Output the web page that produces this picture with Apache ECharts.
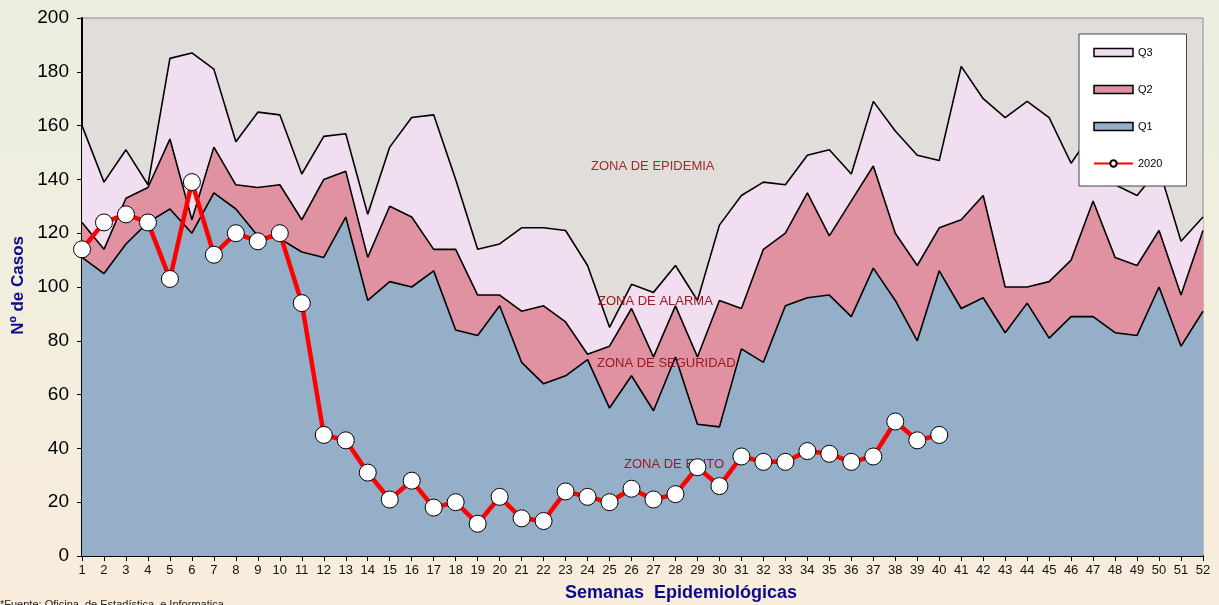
<!DOCTYPE html>
<html style="height: 100%">
<head>
<meta charset="utf-8">
<script type="text/javascript" src="https://cdn.jsdelivr.net/npm/echarts@6/dist/echarts.min.js"></script>
<style type="text/css">
    body {
        margin: 0;
        height: 100%;
        background: linear-gradient(to bottom, #EAEEDF 0%, #F2EEDE 50%, #F9ECDC 100%);
    }
    #container {
        width: 1219px;
        height: 605px;
    }
</style>
</head>
<body>
<div id="container"></div>
<script type="text/javascript">
    // semanas epidemiologicas
    var semanas = [];
    for (var s = 1; s <= 52; s++) { semanas.push(String(s)); }

    // canal endemico (cuartiles) y casos 2020
    var q3 = [160, 139, 151, 138, 185, 187, 181, 154, 165, 164, 142, 156, 157, 127, 152, 163, 164, 140, 114, 116,
              122, 122, 121, 108, 85, 101, 98, 108, 95, 123, 134, 139, 138, 149, 151, 142, 169, 158, 149, 147,
              182, 170, 163, 169, 163, 146, 158, 138, 134, 144, 117, 126];
    var q2 = [124, 114, 133, 137, 155, 125, 152, 138, 137, 138, 125, 140, 143, 111, 130, 126, 114, 114, 97, 97,
              91, 93, 87, 75, 78, 92, 74, 93, 74, 95, 92, 114, 120, 135, 119, 132, 145, 120, 108, 122,
              125, 134, 100, 100, 102, 110, 132, 111, 108, 121, 97, 121];
    var q1 = [111, 105, 116, 124, 129, 120, 135, 129, 119, 118, 113, 111, 126, 95, 102, 100, 106, 84, 82, 93,
              72, 64, 67, 73, 55, 67, 54, 74, 49, 48, 77, 72, 93, 96, 97, 89, 107, 95, 80, 106,
              92, 96, 83, 94, 81, 89, 89, 83, 82, 100, 78, 91];
    var casos2020 = [114, 124, 127, 124, 103, 139, 112, 120, 117, 120, 94, 45, 43, 31, 21, 28, 18, 20, 12, 22,
                     14, 13, 24, 22, 20, 25, 21, 23, 33, 26, 37, 35, 35, 39, 38, 35, 37, 50, 43, 45];

    var zonas = ['ZONA DE EPIDEMIA', 'ZONA DE ALARMA', 'ZONA DE SEGURIDAD', 'ZONA DE EXITO'];

    var colQ3 = '#F1DEF0', colQ2 = '#E091A2', colQ1 = '#94AFC7';
    var font = '"Liberation Sans", Arial, sans-serif';

    function areaSerie(name, data, color) {
        return {
            name: name,
            type: 'line',
            data: data,
            showSymbol: false,
            symbol: 'none',
            z: 2,
            lineStyle: { color: '#000', width: 1.6 },
            itemStyle: { color: color },
            areaStyle: { color: color, opacity: 1, origin: 'start' }
        };
    }

    var dom = document.getElementById('container');
    var myChart = echarts.init(dom);
    var option = {
        animation: false,
        textStyle: { fontFamily: font },
        grid: {
            left: 82, right: 16, top: 18, bottom: 49,
            show: true,
            backgroundColor: '#E0DDDA',
            borderColor: '#8a8a8a',
            borderWidth: 1
        },
        legend: {
            orient: 'vertical',
            left: 1079,
            top: 34,
            backgroundColor: '#fff',
            borderColor: '#444',
            borderWidth: 1,
            padding: [13, 24, 17, 14],
            itemGap: 26,
            itemWidth: 39,
            itemHeight: 8,
            selectedMode: false,
            textStyle: { fontSize: 11, color: '#000', fontFamily: font },
            data: [
                { name: 'Q3', icon: 'rect', itemStyle: { color: colQ3, borderColor: '#000', borderWidth: 1.5 } },
                { name: 'Q2', icon: 'rect', itemStyle: { color: colQ2, borderColor: '#000', borderWidth: 1.5 } },
                { name: 'Q1', icon: 'rect', itemStyle: { color: colQ1, borderColor: '#000', borderWidth: 1.5 } },
                { name: '2020' }
            ]
        },
        xAxis: {
            type: 'category',
            data: semanas,
            boundaryGap: false,
            axisLine: { lineStyle: { color: '#000', width: 2 } },
            axisTick: { show: true, interval: 0, length: 5, lineStyle: { color: '#000' } },
            axisLabel: { interval: 0, fontSize: 13, color: '#111', margin: 8, fontFamily: font },
            splitLine: { show: false }
        },
        yAxis: {
            type: 'value',
            min: 0,
            max: 200,
            interval: 20,
            axisLine: { show: true, lineStyle: { color: '#000', width: 2 } },
            axisTick: { show: true, length: 5, lineStyle: { color: '#000' } },
            axisLabel: { fontSize: 19, color: '#000', margin: 13, fontFamily: font },
            splitLine: { show: false }
        },
        graphic: [
            { type: 'text', left: 591, top: 160, z: 3, style: { text: zonas[0], fill: '#9E2A2E', font: '13px ' + font } },
            { type: 'text', left: 598, top: 295, z: 3, style: { text: zonas[1], fill: '#9A1A22', font: '13px ' + font } },
            { type: 'text', left: 597, top: 357, z: 3, style: { text: zonas[2], fill: '#9A1A22', font: '13px ' + font } },
            { type: 'text', left: 624, top: 458, z: 3, style: { text: zonas[3], fill: '#9A1A22', font: '13px ' + font } },
            { type: 'text', left: 10, top: 236, rotation: Math.PI / 2, z: 3,
              style: { text: 'Nº de Casos', fill: '#0A0A8C', font: 'bold 17px ' + font } },
            { type: 'text', left: 565, top: 584, z: 3,
              style: { text: 'Semanas  Epidemiológicas', fill: '#0A0A8C', font: 'bold 18px ' + font } },
            { type: 'text', left: 0, top: 599, z: 3,
              style: { text: '*Fuente: Oficina  de Estadística  e Informatica', fill: '#222', font: '11px ' + font } }
        ],
        series: [
            areaSerie('Q3', q3, colQ3),
            areaSerie('Q2', q2, colQ2),
            areaSerie('Q1', q1, colQ1),
            {
                name: '2020',
                type: 'line',
                data: casos2020,
                z: 5,
                symbol: 'circle',
                symbolSize: 17,
                showAllSymbol: true,
                lineStyle: { color: '#FF0000', width: 4.5 },
                itemStyle: { color: '#fff', borderColor: '#000', borderWidth: 1 }
            }
        ]
    };
    myChart.setOption(option, true);
</script>
</body>
</html>
